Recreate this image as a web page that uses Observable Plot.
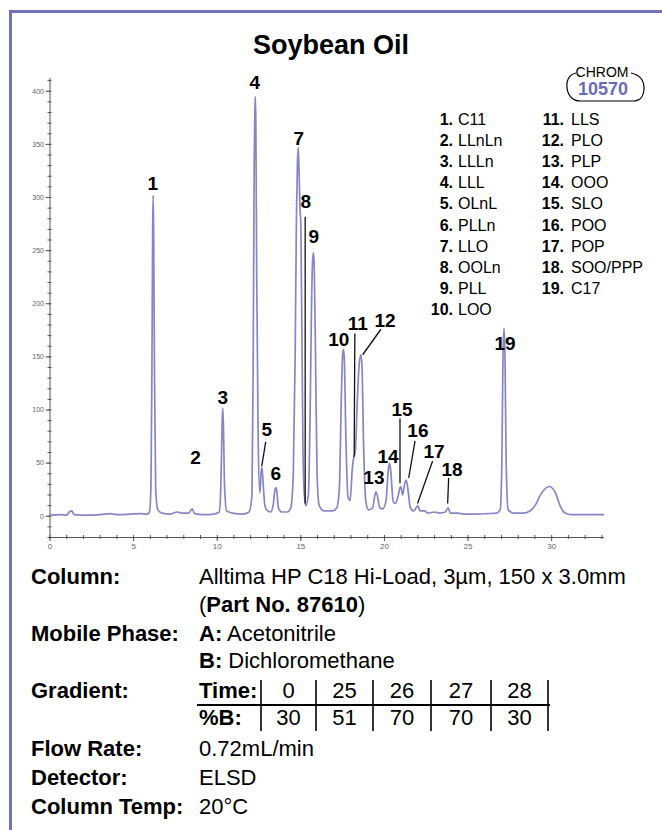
<!DOCTYPE html>
<html>
<head>
<meta charset="utf-8">
<script src="https://cdn.jsdelivr.net/npm/d3@7"></script>
<script src="https://cdn.jsdelivr.net/npm/@observablehq/plot@0.6"></script>
<style>
  body { margin: 0; background: #fff; font-family: "Liberation Sans", Arial, sans-serif; color: #000; }
  #page { position: relative; width: 662px; height: 830px; overflow: hidden; background: #fff; }
  #frame { position: absolute; left: 9px; top: 10px; width: 700px; height: 900px; border-left: 3px solid #7272b8; border-top: 3px solid #7272b8; }
  #title { position: absolute; left: 0; top: 30px; width: 662px; text-align: center; font-weight: bold; font-size: 27px; }
  #chart { position: absolute; left: 0; top: 70px; }
  .lg { position: absolute; font-size: 16px; line-height: 16px; white-space: nowrap; }
  .lgn { font-weight: bold; text-align: right; width: 40px; }
  #badge { position: absolute; left: 0; top: 0; }
  .row { position: absolute; font-size: 22px; line-height: 22px; white-space: nowrap; }
  .lab { left: 31px; font-weight: bold; }
  .val { left: 199px; }
</style>
</head>
<body>
<div id="page">
  <div id="frame"></div>
  <div id="title">Soybean Oil</div>
  <div id="chart"></div>
  <svg id="badge" width="662" height="120">
    <path d="M576,73 C568,75 566,82 567,88 C568,96 573,101 580,101 L633,101 C640,101 644,96 644,88 C644,81 640,75 631,73" fill="none" stroke="#000" stroke-width="1.2"/>
    <text x="602" y="77" text-anchor="middle" font-size="14" font-family="Liberation Sans, Arial, sans-serif">CHROM</text>
    <text x="603" y="95" text-anchor="middle" font-size="18" font-weight="bold" fill="#6b6bb8" font-family="Liberation Sans, Arial, sans-serif">10570</text>
  </svg>
  <div id="legend"></div>
  <div id="details"></div>
</div>
<script>
// ---------------- DATA ----------------
const peakIds = [1,2,3,4,5,6,7,8,9,10,11,12,13,14,15,16,17,18,19];
const peakNames = ["C11","LLnLn","LLLn","LLL","OLnL","PLLn","LLO","OOLn","PLL","LOO",
                   "LLS","PLO","PLP","OOO","SLO","POO","POP","SOO/PPP","C17"];
// label anchor positions (retention time, signal units)
const labelTime   = [6.14, 8.71, 10.33, 12.25, 12.96, 13.5, 14.88, 15.3, 15.78, 17.27, 18.41, 20.03, 19.37, 20.21, 21.05, 22.0, 22.96, 24.04, 27.21];
const labelSignal = [313, 55, 111, 408, 81, 40, 355, 296, 263, 166, 181, 184, 36, 56, 100, 80, 61, 44, 162];
// leader lines: [peak id, t1, s1, t2, s2]
const leaders = [
  [5, 12.90, 70, 12.66, 47],
  [8, 15.26, 282, 15.26, 12],
  [11, 18.23, 172, 18.19, 56],
  [12, 19.79, 176, 18.70, 152],
  [15, 20.93, 92, 20.93, 31],
  [16, 21.83, 71, 21.45, 36],
  [17, 22.88, 52, 21.98, 12],
  [18, 23.84, 36, 23.78, 12]
];
// detector trace: [time (min), signal]
const trace = [
  [0,1],[0.6,1.5],[1.0,1],[1.15,4],[1.3,5],[1.45,1.5],[2.2,1],[3.0,1.5],[3.6,2.5],[4.0,1.5],[4.8,2],[5.4,2.5],[5.8,2],
  [5.95,4],[6.04,30],[6.1,150],[6.14,270],[6.17,302],[6.2,265],[6.25,130],[6.32,25],[6.45,6],[6.7,3],
  [7.2,2],[7.6,4],[7.9,3],[8.3,3],[8.5,7],[8.65,2.5],[9.2,1.5],[9.8,2],
  [10.12,4],[10.22,30],[10.29,85],[10.33,102],[10.37,85],[10.44,28],[10.56,5],[10.9,3],[11.5,2],[11.9,4],
  [12.08,20],[12.15,140],[12.21,330],[12.25,380],[12.28,395],[12.31,370],[12.36,230],[12.45,70],[12.55,22],
  [12.62,40],[12.68,46],[12.75,30],[12.85,10],[12.95,6],
  [13.2,4],[13.36,12],[13.45,25],[13.5,27],[13.56,24],[13.66,8],[13.85,4],[14.2,4],
  [14.4,8],[14.55,40],[14.66,150],[14.74,285],[14.8,335],[14.85,347],[14.9,320],[14.95,290],[15.0,275],[15.06,180],[15.13,60],[15.22,18],[15.3,10],
  [15.45,20],[15.55,90],[15.64,200],[15.7,240],[15.75,248],[15.8,235],[15.88,150],[15.97,40],[16.1,10],[16.4,5],[16.9,5],[17.15,8],
  [17.3,25],[17.42,110],[17.5,152],[17.55,157],[17.6,148],[17.7,70],[17.82,18],
  [17.95,15],[18.08,45],[18.17,56],[18.25,60],
  [18.38,110],[18.5,145],[18.6,152],[18.66,140],[18.75,70],[18.88,15],[19.05,6],
  [19.3,8],[19.43,20],[19.5,23],[19.57,20],[19.72,8],[19.9,7],
  [20.1,15],[20.22,42],[20.3,50],[20.38,42],[20.52,14],[20.65,12],
  [20.8,18],[20.93,27],[20.98,28],[21.08,20],
  [21.2,30],[21.3,34],[21.38,28],[21.55,8],[21.75,5],
  [21.9,8],[22.0,10],[22.12,5],[22.4,5],[22.6,3],[23.0,4],[23.3,3],
  [23.65,4],[23.8,8],[23.95,3],[24.4,3],[24.8,2],
  [25.5,2],[26.2,2.5],[26.7,3],
  [26.92,6],[27.02,50],[27.09,150],[27.15,177],[27.21,150],[27.28,50],[27.4,6],[27.7,3],
  [28.3,3],[28.7,5],[29.0,10],[29.4,22],[29.85,28],[30.2,23],[30.5,10],[30.8,3],[31.2,1.5],[32,1.5],[33.1,1.5]
];
const xMajorTicks = [0,5,10,15,20,25,30];
const xMinorTicks = d3.range(0, 34, 1);
const yMajorTicks = [0,50,100,150,200,250,300,350,400];
const yMinorTicks = d3.range(-20, 411, 10);
// method details
const gradientTime = [0, 25, 26, 27, 28];
const gradientB = [30, 51, 70, 70, 30];

// ---------------- CHART ----------------
const labels = peakIds.map((id, i) => ({id, t: labelTime[i], s: labelSignal[i]}));
const leaderData = leaders.map(([id, t1, s1, t2, s2]) => ({id, t1, s1, t2, s2}));
const axisColor = "#555";
const chart = Plot.plot({
  width: 662,
  height: 490,
  marginLeft: 49.5,
  marginRight: 59,
  marginTop: 8,
  marginBottom: 23,
  x: {domain: [0, 33.1]},
  y: {domain: [-20, 412]},
  style: {fontFamily: "Liberation Sans, Arial, sans-serif", background: "transparent", overflow: "visible"},
  marks: [
    Plot.frame({anchor: "left", stroke: axisColor, strokeWidth: 1}),
    Plot.frame({anchor: "bottom", stroke: axisColor, strokeWidth: 1}),
    Plot.axisY({ticks: yMajorTicks, tickSize: 4, tickPadding: 2, fontSize: 7, fill: "#666", stroke: axisColor, label: null}),
    Plot.axisY({ticks: yMinorTicks, tickSize: 4, dx: 2, tickFormat: () => "", stroke: axisColor, label: null}),
    Plot.axisX({ticks: xMajorTicks, tickSize: 4, tickPadding: 2, fontSize: 8, fill: "#666", stroke: axisColor, label: null}),
    Plot.axisX({ticks: xMinorTicks, tickSize: 4, dy: -2, tickFormat: () => "", stroke: axisColor, label: null}),
    Plot.line(trace, {x: d => d[0], y: d => d[1], curve: "monotone-x", stroke: "#8080c2", strokeWidth: 1.7, strokeOpacity: 0.95}),
    Plot.link(leaderData, {x1: "t1", y1: "s1", x2: "t2", y2: "s2", stroke: "#111", strokeWidth: 1.3}),
    Plot.text(labels, {x: "t", y: "s", text: d => String(d.id), fontWeight: "bold", fontSize: 19,
      fontFamily: "Liberation Sans, Arial, sans-serif", fill: "#000"})
  ]
});
document.getElementById("chart").appendChild(chart);

// ---------------- LEGEND ----------------
const legend = document.getElementById("legend");
peakIds.forEach((id, i) => {
  const col = i < 10 ? 0 : 1;
  const row = i < 10 ? i : i - 10;
  const cy = 120 + row * 21.1;
  const numRight = col === 0 ? 453 : 564;
  const nameLeft = col === 0 ? 458 : 571;
  const n = document.createElement("div");
  n.className = "lg lgn";
  n.style.left = (numRight - 40) + "px";
  n.style.top = (cy - 8) + "px";
  n.textContent = id + ".";
  legend.appendChild(n);
  const t = document.createElement("div");
  t.className = "lg";
  t.style.left = nameLeft + "px";
  t.style.top = (cy - 8) + "px";
  t.textContent = peakNames[i];
  legend.appendChild(t);
});

// ---------------- DETAILS ----------------
const details = document.getElementById("details");
function addRow(cls, cy, html) {
  const d = document.createElement("div");
  d.className = "row " + cls;
  d.style.top = (cy - 11) + "px";
  d.innerHTML = html;
  details.appendChild(d);
}
addRow("lab", 577, "Column:");
addRow("val", 577, "Alltima HP C18 Hi-Load, 3µm, 150 x 3.0mm");
addRow("val", 605, "(<b>Part No. 87610</b>)");
addRow("lab", 634, "Mobile Phase:");
addRow("val", 634, "<b>A:</b> Acetonitrile");
addRow("val", 661, "<b>B:</b> Dichloromethane");
addRow("lab", 691, "Gradient:");
addRow("val", 691, "<b>Time:</b>");
addRow("val", 718, "<b>%B:</b>");
addRow("lab", 749, "Flow Rate:");
addRow("val", 749, "0.72mL/min");
addRow("lab", 778, "Detector:");
addRow("val", 778, "ELSD");
addRow("lab", 807, "Column Temp:");
addRow("val", 807, "20°C");
// gradient table
const bars = [261, 316, 373, 431, 491, 548];
gradientTime.forEach((v, i) => {
  const cx = (bars[i] + bars[i + 1]) / 2;
  const d = document.createElement("div");
  d.className = "row";
  d.style.left = (cx - 30) + "px";
  d.style.width = "60px";
  d.style.textAlign = "center";
  d.style.top = (691 - 11) + "px";
  d.textContent = v;
  details.appendChild(d);
  const e = d.cloneNode();
  e.style.top = (718 - 11) + "px";
  e.textContent = gradientB[i];
  details.appendChild(e);
});
const tbl = document.createElementNS("http://www.w3.org/2000/svg", "svg");
tbl.setAttribute("width", 662); tbl.setAttribute("height", 830);
tbl.style.position = "absolute"; tbl.style.left = "0"; tbl.style.top = "0";
let s = `<line x1="197" x2="550" y1="705" y2="705" stroke="#000" stroke-width="2"/>`;
bars.forEach(x => { s += `<line x1="${x}" x2="${x}" y1="680" y2="731" stroke="#000" stroke-width="1.6"/>`; });
tbl.innerHTML = s;
details.appendChild(tbl);
</script>
</body>
</html>
